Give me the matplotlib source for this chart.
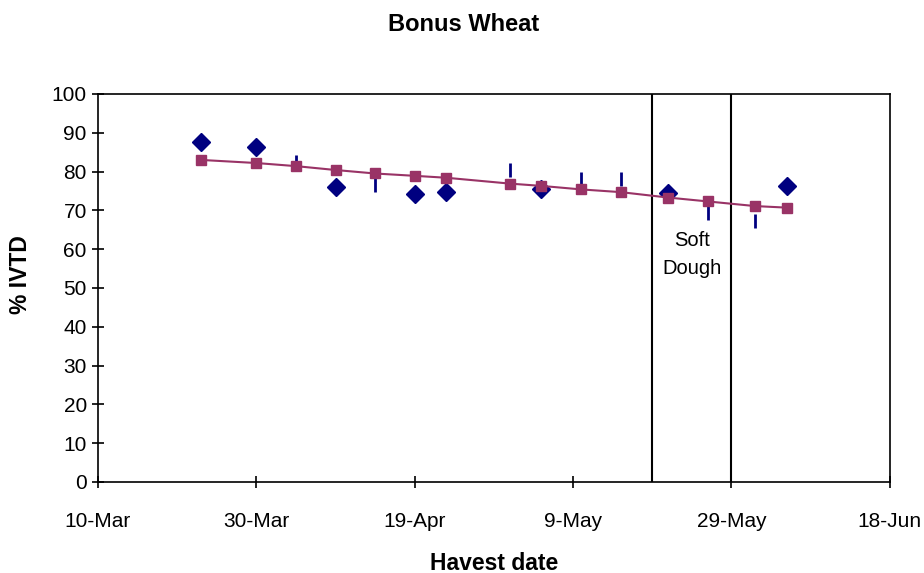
import datetime as dt
import matplotlib
matplotlib.use("Agg")
import matplotlib.pyplot as plt
import matplotlib.dates as mdates

plt.rcParams['font.family'] = ['Liberation Sans', 'DejaVu Sans']

yr = 2007
def d(m, day):
    return dt.datetime(yr, m, day)

# measured points (diamonds)
diamond_dates = [d(3, 23), d(3, 30), d(4, 9), d(4, 19), d(4, 23), d(5, 5), d(5, 21), d(6, 5)]
diamond_vals = [87.6, 86.3, 76.0, 74.3, 74.7, 75.6, 74.4, 76.4]

# measured points drawn as bars
bar_dates = [d(4, 4), d(4, 14), d(5, 1), d(5, 10), d(5, 15), d(5, 26), d(6, 1)]
bar_vals = [82.5, 76.5, 80.5, 78.0, 78.0, 69.3, 67.2]

# fitted line
fit_dates = [d(3, 23), d(3, 30), d(4, 4), d(4, 9), d(4, 14), d(4, 19), d(4, 23), d(5, 1),
             d(5, 5), d(5, 10), d(5, 15), d(5, 21), d(5, 26), d(6, 1), d(6, 5)]
fit_vals = [83.0, 82.2, 81.4, 80.4, 79.5, 78.9, 78.4, 76.9,
            76.3, 75.4, 74.7, 73.3, 72.3, 71.1, 70.7]

soft_dough = [d(5, 19), d(5, 29)]

fig = plt.figure(figsize=(9.24, 5.73), dpi=100)
ax = fig.add_axes([0.106, 0.159, 0.857, 0.677])

ax.plot(fit_dates, fit_vals, color='#993366', marker='s', markersize=7, linewidth=1.5, zorder=3)
ax.plot(diamond_dates, diamond_vals, linestyle='none', marker='D', markersize=9.5,
        color='#000080', zorder=2)
ax.plot(bar_dates, bar_vals, linestyle='none', marker='|', markersize=10,
        markeredgewidth=2, color='#000080', zorder=2)

for x in soft_dough:
    ax.axvline(x, color='black', linewidth=1.5, zorder=1)
ax.text(d(5, 24), 58.5, 'Soft\nDough', ha='center', va='center',
        fontsize=14.5, linespacing=1.6)

ticks = [d(3, 10) + dt.timedelta(days=20 * i) for i in range(6)]
ax.set_xticks(ticks)
ax.xaxis.set_major_formatter(mdates.DateFormatter('%-d-%b'))
ax.set_xlim(ticks[0], ticks[-1])
ax.set_ylim(0, 100)
ax.set_yticks(range(0, 101, 10))
ax.tick_params(axis='both', direction='inout', labelsize=15, length=8, width=1.2)
ax.tick_params(axis='x', pad=18)
ax.tick_params(axis='y', pad=4)
for s in ax.spines.values():
    s.set_linewidth(1.2)

fig.text(0.535, 0.017, 'Havest date', ha='center', va='center', fontsize=16.5, fontweight='bold')
fig.text(0.022, 0.52, '% IVTD', ha='center', va='center', rotation=90,
         fontsize=16.5, fontweight='bold')
fig.text(0.502, 0.958, 'Bonus Wheat', ha='center', va='center', fontsize=17, fontweight='bold')

fig.savefig('out.png', dpi=100)
